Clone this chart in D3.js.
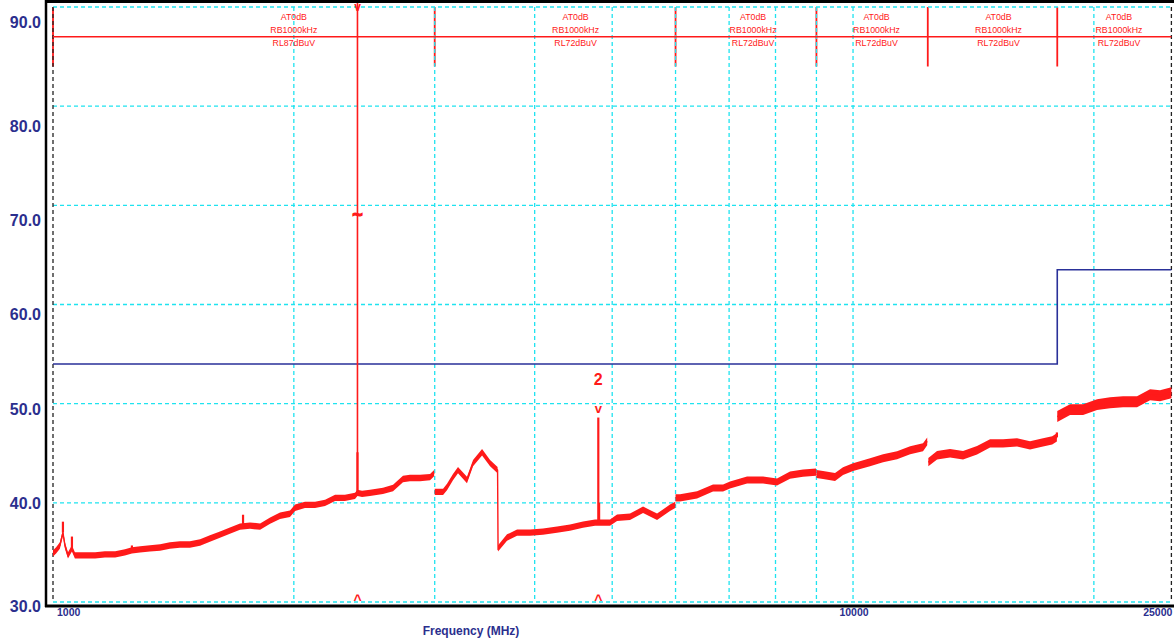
<!DOCTYPE html>
<html><head><meta charset="utf-8">
<script src="https://cdn.jsdelivr.net/npm/d3@7"></script>
<style>html,body{margin:0;padding:0;background:#fff;} svg{display:block;font-family:"Liberation Sans",Arial,sans-serif;}</style>
</head><body><svg id="c" width="1174" height="639"></svg>
<script>
// ---------- DATA ----------
const traceFreq = [
  1000,1009,1020,1029,1035,1044,1056,1065,1096,1129,1161,1196,1230,1255,1285,1322,1361,1400,1441,1483,
  1527,1571,1617,1664,1713,1763,1815,1868,1922,1978,2007,2065,2126,2188,2252,2317,2385,2402,2434,2490,
  2585,2661,2738,2794,2876,2960,2995,
  3000,3073,3108,3162,3208,3292,3350,3438,3518,3595,3600,3694,3802,3947,4097,4266,4428,4597,4759,4804,
  4870,4969,5070,5263,5464,5689,5905,5995,
  6000,6078,6383,6683,6879,7018,7371,7718,8035,8341,8660,8990,
  9000,9173,9495,9716,10000,10501,10902,11350,11787,12232,12380,
  12420,12735,13221,13725,14289,14834,15399,16032,16643,17278,17740,17980,
  18000,18675,19390,20184,20954,21752,22646,23510,24196,25000];
const traceLevel = [
  34.9,35.2,35.7,37.0,35.7,34.7,35.4,34.7,34.7,34.7,34.8,34.8,35.0,35.2,35.3,35.4,35.5,35.7,35.8,35.8,
  36.0,36.4,36.8,37.2,37.6,37.7,37.6,38.2,38.7,38.9,39.5,39.8,39.8,40.0,40.5,40.5,40.7,41.0,40.9,41.0,
  41.2,41.5,42.4,42.5,42.5,42.6,43.0,
  41.1,41.1,41.6,42.6,43.3,42.3,44.0,45.1,44.0,43.3,35.4,36.5,37.0,37.0,37.1,37.3,37.5,37.8,38.0,38.0,
  38.0,38.0,38.5,38.6,39.3,38.6,39.5,39.8,
  40.5,40.5,40.8,41.5,41.5,41.8,42.3,42.3,42.1,42.8,43.0,43.1,
  42.9,42.8,42.6,43.2,43.6,44.1,44.5,44.8,45.3,45.6,46.2,
  44.1,44.8,45.0,44.8,45.3,46.0,46.0,46.1,45.8,46.1,46.3,46.6,
  48.7,49.4,49.4,49.9,50.1,50.2,50.2,50.9,50.8,51.1];

const segStart = [1000, 3000, 6000, 9000, 12400, 18000];
const segStop = [3000, 6000, 9000, 12400, 18000, 25000];
const segAtten = ["AT0dB","AT0dB","AT0dB","AT0dB","AT0dB","AT0dB"];
const segRbw = ["RB1000kHz","RB1000kHz","RB1000kHz","RB1000kHz","RB1000kHz","RB1000kHz"];
const segRefLevel = ["RL87dBuV","RL72dBuV","RL72dBuV","RL72dBuV","RL72dBuV","RL72dBuV"];
const segNoise = [0.32, 0.32, 0.36, 0.4, 0.42, 0.55];   // half peak-to-peak of trace noise, dB
const segMarkTop = 90, segMarkBottom = 84;

const spikeFreq = [1029, 1056, 1255, 1728, 2402, 4804, 4815, 17980];
const spikeTop  = [38.1, 36.6, 35.7, 38.8, 45.1, 48.6, 40.0, 47.1];

const markerFreq = [2402, 4804];
const markerLevel = [95, 48.6];
const markerName = ["1", "2"];
const symbolFreq = [2402], symbolLevel = [69], symbolText = ["~"];

const limitFreq = [1000, 18000, 18000, 25000];
const limitLevel = [54, 54, 63.5, 63.5];
const refLevelLine = 87;

const yTicks = [30, 40, 50, 60, 70, 80, 90];
const xGrid = [1000,2000,3000,4000,5000,6000,7000,8000,9000,10000,20000,25000];
const xTickLabels = [1000, 10000, 25000];
const xTitle = "Frequency (MHz)";

// ---------- SCALES ----------
const svg = d3.select("#c");
const x = d3.scaleLog().domain([1000, 25000]).range([53, 1171.4]);
const y = d3.scaleLinear().domain([30, 90]).range([602, 7]);
const yLab = d3.scaleLinear().domain([30, 40, 80, 90]).range([606, 503, 126, 22]);
const RED = "#ff1a1a", NAVY = "#2b2f8e", CYAN = "#1fe3f0";

svg.append("rect").attr("width", 1174).attr("height", 639).attr("fill", "#fff");

// segment separators (under grid)
svg.append("g").selectAll("line").data(segStart).join("line")
  .attr("x1", d => x(d)).attr("x2", d => x(d))
  .attr("y1", y(segMarkTop)).attr("y2", y(segMarkBottom))
  .attr("stroke", RED).attr("stroke-width", 1.8);

// grid
const g = svg.append("g");
g.selectAll("line.h").data(yTicks).join("line").attr("class","h")
  .attr("x1", x(1000)).attr("x2", x(25000)).attr("y1", d => y(d)).attr("y2", d => y(d))
  .attr("stroke", CYAN).attr("stroke-width", 1.3).attr("stroke-dasharray", "4,3");
g.selectAll("line.v").data(xGrid).join("line").attr("class","v")
  .attr("x1", d => x(d)).attr("x2", d => x(d)).attr("y1", y(90)).attr("y2", y(30))
  .attr("stroke", (d,i) => (i === 0 || i === xGrid.length - 1) ? "#222" : CYAN)
  .attr("stroke-width", 1.3).attr("stroke-dasharray", "4,3");

// reference level line
svg.append("line").attr("x1", x(1000)).attr("x2", x(25000))
  .attr("y1", y(refLevelLine)).attr("y2", y(refLevelLine))
  .attr("stroke", RED).attr("stroke-width", 1.5);

// segment headers
const hdr = svg.append("g").attr("fill", RED).attr("font-size", 8.8).attr("text-anchor", "middle");
segStart.forEach((s, i) => {
  const cx = x((s + segStop[i]) / 2);
  hdr.append("text").attr("x", cx).attr("y", 20).text(segAtten[i]);
  hdr.append("text").attr("x", cx).attr("y", 33).text(segRbw[i]);
  hdr.append("text").attr("x", cx).attr("y", 46).text(segRefLevel[i]);
});

// limit line
svg.append("path").datum(limitFreq.map((f, i) => [f, limitLevel[i]]))
  .attr("d", d3.line().x(d => x(d[0])).y(d => y(d[1])))
  .attr("fill", "none").attr("stroke", "#2a3199").attr("stroke-width", 1.6);

// trace
const pts = traceFreq.map((f, i) => ({ f, v: traceLevel[i], s: d3.bisectRight(segStart, f) - 1 }));
const tg = svg.append("g");
segStart.forEach((s, si) => {
  const seg = pts.filter(p => p.s === si);
  tg.append("path").datum(seg)
    .attr("d", d3.area().x(d => x(d.f)).y0(d => y(d.v - segNoise[si])).y1(d => y(d.v + segNoise[si])))
    .attr("fill", RED);
  tg.append("path").datum(seg)
    .attr("d", d3.line().x(d => x(d.f)).y(d => y(d.v)))
    .attr("fill", "none").attr("stroke", RED).attr("stroke-width", 1.4);
});
const nearestLevel = f => {
  let i = d3.bisectLeft(traceFreq, f);
  if (i >= traceFreq.length) i = traceFreq.length - 1;
  if (i > 0 && Math.abs(traceFreq[i - 1] - f) < Math.abs(traceFreq[i] - f)) i--;
  return traceLevel[i];
};
tg.selectAll("line.sp").data(spikeFreq).join("line").attr("class","sp")
  .attr("x1", d => x(d)).attr("x2", d => x(d))
  .attr("y1", d => y(nearestLevel(d))).attr("y2", (d, i) => y(spikeTop[i]))
  .attr("stroke", RED).attr("stroke-width", 2.2);

// markers
markerFreq.forEach((f, i) => {
  const mx = x(f);
  const top = y(markerLevel[i]);
  const clamped = markerLevel[i] > 90;
  if (clamped) {
    svg.append("line").attr("x1", mx).attr("x2", mx)
      .attr("y1", y(nearestLevel(f))).attr("y2", 0)
      .attr("stroke", RED).attr("stroke-width", 1.6);
  }
  const vBase = clamped ? 11 : top - 5;
  svg.append("text").attr("x", mx).attr("y", vBase).attr("text-anchor", "middle")
    .attr("fill", RED).attr("font-size", clamped ? 12 : 13).attr("font-weight", "bold").text("v");
  if (!clamped) {
    svg.append("text").attr("x", mx).attr("y", vBase - 28).attr("text-anchor", "middle")
      .attr("fill", RED).attr("font-size", 16).attr("font-weight", "bold").text(markerName[i]);
  }
  svg.append("text").attr("x", mx).attr("y", 605).attr("text-anchor", "middle")
    .attr("fill", RED).attr("font-size", 14).attr("font-weight", "bold").text("^");
});
symbolFreq.forEach((f, i) => {
  svg.append("text").attr("x", x(f)).attr("y", y(symbolLevel[i]) + 6).attr("text-anchor", "middle")
    .attr("fill", RED).attr("stroke", RED).attr("stroke-width", 1.1)
    .attr("font-size", 18).attr("font-weight", "bold").text(symbolText[i]);
});

// frame
svg.append("line").attr("x1", 46).attr("x2", 46).attr("y1", 0).attr("y2", 607)
  .attr("stroke", "#000").attr("stroke-width", 2.5);
svg.append("line").attr("x1", 45).attr("x2", 1174).attr("y1", 606).attr("y2", 606)
  .attr("stroke", "#000").attr("stroke-width", 3);
svg.append("line").attr("x1", 45).attr("x2", 1174).attr("y1", 1.5).attr("y2", 1.5)
  .attr("stroke", "#000").attr("stroke-width", 3);

// y labels
svg.append("g").selectAll("text").data(yTicks).join("text")
  .attr("x", 41).attr("y", d => yLab(d)).attr("dy", "0.36em").attr("text-anchor", "end")
  .attr("fill", NAVY).attr("font-size", 16).attr("font-weight", "bold")
  .text(d => d.toFixed(1));

// x labels
svg.append("g").selectAll("text").data(xTickLabels).join("text")
  .attr("x", (d, i) => i === 0 ? x(d) + 4 : x(d) + 1)
  .attr("y", 616)
  .attr("text-anchor", (d, i) => i === 0 ? "start" : i === xTickLabels.length - 1 ? "end" : "middle")
  .attr("fill", NAVY).attr("font-size", 10.5).attr("font-weight", "bold")
  .text(d => d);
svg.append("text").attr("x", 471).attr("y", 634.5).attr("text-anchor", "middle")
  .attr("fill", NAVY).attr("font-size", 12).attr("font-weight", "bold").text(xTitle);
</script></body></html>
